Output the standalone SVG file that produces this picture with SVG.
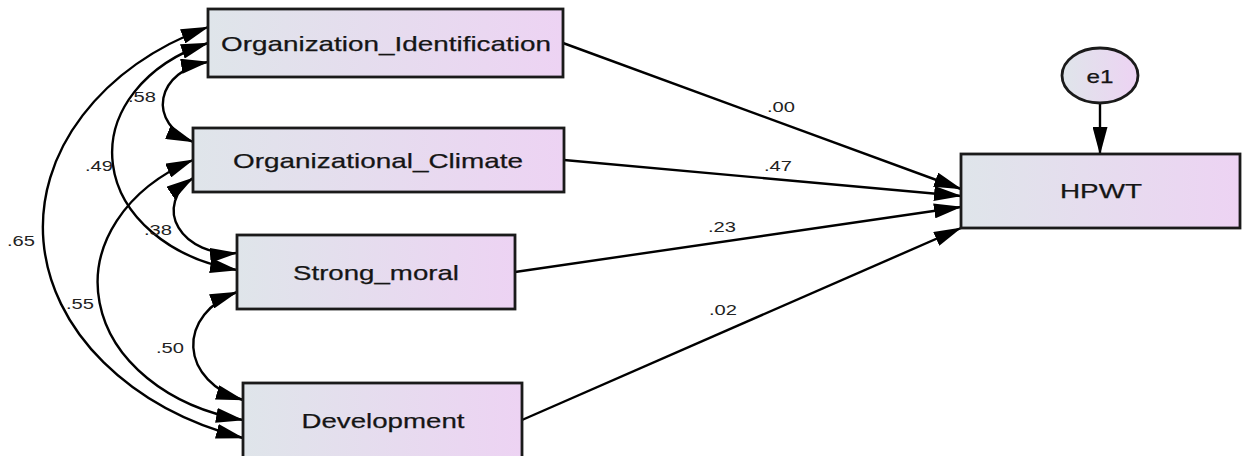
<svg xmlns="http://www.w3.org/2000/svg" width="1244" height="456" viewBox="0 0 1244 456">
<style>
.box{stroke:#1a1a1a;stroke-width:2.8}
.lbl{font-family:"Liberation Sans",Arial,sans-serif;font-size:21px;fill:#151515;text-anchor:middle;stroke:#151515;stroke-width:0.25}
.num{font-family:"Liberation Sans",Arial,sans-serif;font-size:15px;fill:#222;text-anchor:middle}
.con{fill:none;stroke:#000;stroke-width:2.4}
</style>
<defs>
<linearGradient id="g" x1="0" y1="0" x2="1" y2="0">
<stop offset="0" stop-color="#dfe5ea"/>
<stop offset="1" stop-color="#edd3f3"/>
</linearGradient>
<marker id="ah" viewBox="0 0 28 15" refX="27" refY="7.5" markerWidth="28" markerHeight="15" markerUnits="userSpaceOnUse" orient="auto-start-reverse">
<path d="M0,0 L28,7.5 L0,15 z" fill="#000"/>
</marker>
</defs>
<rect width="1244" height="456" fill="#fff"/>
<g id="connectors">
<path class="con" d="M208,27 A296,223 0 0 0 243,438" marker-start="url(#ah)" marker-end="url(#ah)"/>
<path class="con" d="M208,43 A160,120 0 0 0 237,270" marker-start="url(#ah)" marker-end="url(#ah)"/>
<path class="con" d="M208,62 A57,43 0 0 0 193,142" marker-start="url(#ah)" marker-end="url(#ah)"/>
<path class="con" d="M193,178 A57,43 0 0 0 237,253" marker-start="url(#ah)" marker-end="url(#ah)"/>
<path class="con" d="M193,160 A188,141 0 0 0 243,420" marker-start="url(#ah)" marker-end="url(#ah)"/>
<path class="con" d="M237,292 A78,59 0 0 0 243,400" marker-start="url(#ah)" marker-end="url(#ah)"/>
<path class="con" d="M563,43 L961,189" marker-end="url(#ah)"/>
<path class="con" d="M564,160 L961,196" marker-end="url(#ah)"/>
<path class="con" d="M515,272 L961,207" marker-end="url(#ah)"/>
<path class="con" d="M522,420 L961,228" marker-end="url(#ah)"/>
<path class="con" d="M1100,103 L1100,154" marker-end="url(#ah)"/>
<text class="num" x="142" y="102" textLength="28" lengthAdjust="spacingAndGlyphs">.58</text>
<text class="num" x="99" y="171" textLength="28" lengthAdjust="spacingAndGlyphs">.49</text>
<text class="num" x="21" y="246" textLength="28" lengthAdjust="spacingAndGlyphs">.65</text>
<text class="num" x="158" y="235" textLength="28" lengthAdjust="spacingAndGlyphs">.38</text>
<text class="num" x="80" y="309" textLength="28" lengthAdjust="spacingAndGlyphs">.55</text>
<text class="num" x="170" y="353" textLength="28" lengthAdjust="spacingAndGlyphs">.50</text>
<text class="num" x="781" y="112" textLength="28" lengthAdjust="spacingAndGlyphs">.00</text>
<text class="num" x="778" y="171" textLength="28" lengthAdjust="spacingAndGlyphs">.47</text>
<text class="num" x="722" y="232" textLength="28" lengthAdjust="spacingAndGlyphs">.23</text>
<text class="num" x="723" y="315" textLength="28" lengthAdjust="spacingAndGlyphs">.02</text>
</g>
<g id="node-oi">
<rect class="box" x="208" y="9" width="355" height="68" fill="url(#g)"/>
<text class="lbl" x="386" y="51" textLength="330" lengthAdjust="spacingAndGlyphs">Organization_Identification</text>
</g>
<g id="node-oc">
<rect class="box" x="193" y="128" width="371" height="64" fill="url(#g)"/>
<text class="lbl" x="378" y="168" textLength="290" lengthAdjust="spacingAndGlyphs">Organizational_Climate</text>
</g>
<g id="node-sm">
<rect class="box" x="237" y="235" width="278" height="74" fill="url(#g)"/>
<text class="lbl" x="376" y="280" textLength="166" lengthAdjust="spacingAndGlyphs">Strong_moral</text>
</g>
<g id="node-dev">
<rect class="box" x="243" y="383" width="279" height="78" fill="url(#g)"/>
<text class="lbl" x="383" y="428" textLength="163" lengthAdjust="spacingAndGlyphs">Development</text>
</g>
<g id="node-hpwt">
<rect class="box" x="961" y="154" width="279" height="74" fill="url(#g)"/>
<text class="lbl" x="1101" y="198" textLength="82" lengthAdjust="spacingAndGlyphs">HPWT</text>
</g>
<g id="node-e1">
<ellipse class="box" cx="1100" cy="75.5" rx="38" ry="27.5" fill="url(#g)"/>
<text class="lbl" x="1100" y="83" style="font-size:19px" textLength="27" lengthAdjust="spacingAndGlyphs">e1</text>
</g>
</svg>
